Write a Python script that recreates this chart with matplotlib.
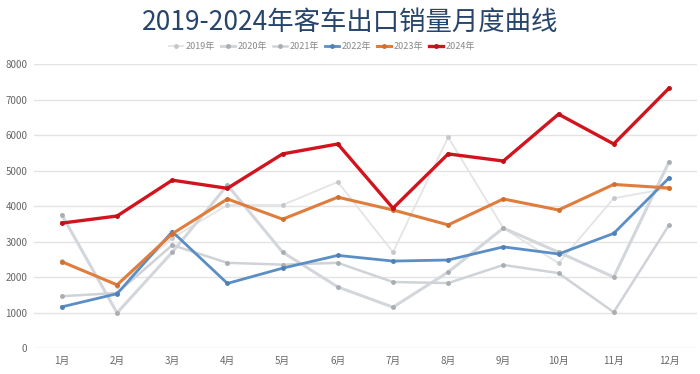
import numpy as np
import matplotlib.pyplot as plt

plt.rcParams['font.family'] = ['Noto Sans CJK SC', 'DejaVu Sans']

months = [f"{i}月" for i in range(1, 13)]
years = ["2019年", "2020年", "2021年", "2022年", "2023年", "2024年"]

y2019 = [2450, 1750, 3100, 4030, 4030, 4680, 2700, 5940, 3380, 2390, 4220, 4500]
y2020 = [3750, 990, 2700, 4590, 2700, 1720, 1150, 2140, 3380, 2700, 2000, 5240]
y2021 = [1460, 1550, 2900, 2400, 2350, 2400, 1860, 1830, 2340, 2110, 1010, 3460]
y2022 = [1160, 1530, 3280, 1820, 2250, 2610, 2450, 2480, 2850, 2650, 3230, 4790]
y2023 = [2430, 1780, 3220, 4200, 3630, 4250, 3890, 3470, 4200, 3890, 4610, 4510]
y2024 = [3520, 3720, 4730, 4500, 5470, 5750, 3940, 5470, 5270, 6590, 5750, 7320]

series = [y2019, y2020, y2021, y2022, y2023, y2024]
colors = ["#e2e4e6", "#d3d7db", "#cfd3d7", "#5b8ec4", "#e07d3c", "#d2141e"]
mcolors = ["#c4c8cc", "#a9aeb3", "#a9aeb3", "#4f80b6", "#d06f30", "#c01018"]
widths = [1.3, 2.2, 1.8, 2.0, 2.2, 2.4]

fig = plt.figure(figsize=(7, 3.74), dpi=100)
ax = fig.add_axes([0.049, 0.0695, 0.946, 0.759])

x = np.arange(len(months))
for name, vals, c, mc, lw in zip(years, series, colors, mcolors, widths):
    ax.plot(x, vals, color=c, lw=lw, marker="o", markersize=2.5,
            markerfacecolor=mc, markeredgecolor=mc,
            label=name, solid_joinstyle="miter")

ax.set_xlim(-0.5, 11.5)
ax.set_ylim(0, 8000)
ax.set_yticks(range(0, 8001, 1000))
ax.set_xticks(x)
ax.set_xticklabels(months)
ax.tick_params(length=0, labelsize=7, colors="#666666")
ax.tick_params(axis="y", pad=5)
ax.tick_params(axis="x", pad=6)
ax.grid(axis="y", color="#e3e3e3", lw=1)
ax.set_axisbelow(True)
for s in ax.spines.values():
    s.set_visible(False)

fig.text(0.5, 0.94, "2019-2024年客车出口销量月度曲线", ha="center", va="center",
         fontsize=19, color="#27456b")
fig.legend(loc="center", bbox_to_anchor=(0.46, 0.875), ncol=6, frameon=False,
           fontsize=6.5, handlelength=1.6, columnspacing=0.6, handletextpad=0.3,
           labelcolor="#888888")

fig.savefig("out.png", dpi=100)
